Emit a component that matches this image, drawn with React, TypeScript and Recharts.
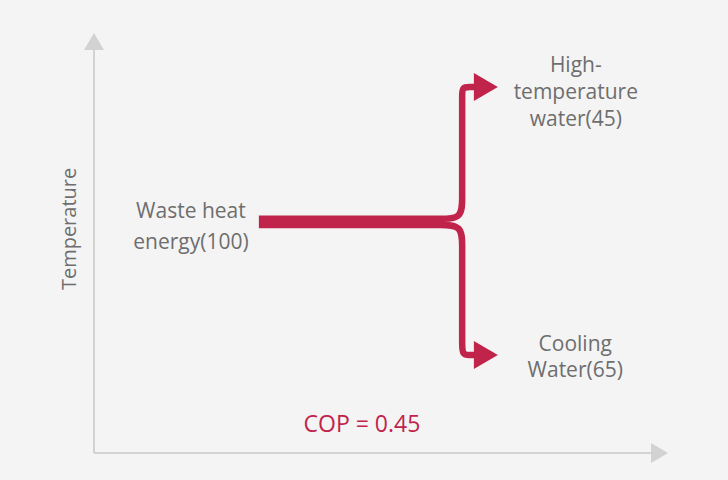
import React from "react";
import { ComposedChart, Line, XAxis, YAxis, ReferenceDot } from "recharts";

// Flow paths (x: process stage 0-100, y: temperature 0-100)
const upperFlowX = [29.6, 58.5, 62.1, 66.1, 66.1, 66.1, 66.1, 66.1, 66.1, 67.5, 68.6];
const upperFlowY = [58.1, 58.1, 58.1, 58.1, 63.5, 68.5, 85.1, 88.8, 90.8, 90.8, 90.8];
const lowerFlowX = [29.6, 58.5, 62.1, 66.1, 66.1, 66.1, 66.1, 66.1, 66.1, 67.5, 68.6];
const lowerFlowY = [56.6, 56.6, 56.6, 56.6, 51.1, 46.2, 30.5, 27.3, 24.3, 24.3, 24.3];

const flowEndX = [68.2, 68.2];
const flowEndY = [90.8, 24.3];

const labelTexts = [
  ["Waste heat", "energy(100)"],
  ["High-", "temperature", "water(45)"],
  ["Cooling", "Water(65)"],
];
const labelX = [17.4, 86.5, 86.4];
const labelY = [58.3, 94.5, 25.4];
const labelLineGap = [31, 27, 26];

const copText = "COP = 0.45";
const copX = 48.1;
const copY = 5.2;
const axisTitle = "Temperature";
const axisTitleX = -3.2;
const axisTitleY = 55.6;

const upperData = upperFlowX.map((x, i) => ({ x, y: upperFlowY[i] }));
const lowerData = lowerFlowX.map((x, i) => ({ x, y: lowerFlowY[i] }));

const RED = "#c0244b";
const GRAY_TEXT = "#6e6e6e";
const AXIS = "#d2d2d2";
const FONT = "'Open Sans', sans-serif";

const ArrowRight = (color: string, len: number, half: number) => (p: any) =>
  (
    <path
      d={`M${p.cx},${p.cy - half} L${p.cx + len},${p.cy} L${p.cx},${p.cy + half} Z`}
      fill={color}
    />
  );
const ArrowUp = (color: string, len: number, half: number) => (p: any) =>
  (
    <path
      d={`M${p.cx - half},${p.cy} L${p.cx},${p.cy - len} L${p.cx + half},${p.cy} Z`}
      fill={color}
    />
  );

const MultiText = (lines: string[], gap: number, color: string, size: number) => (p: any) =>
  (
    <text x={p.cx} y={p.cy} textAnchor="middle" fontFamily={FONT} fontSize={size} fill={color}>
      {lines.map((l, i) => (
        <tspan key={i} x={p.cx} dy={i === 0 ? 0 : gap}>
          {l}
        </tspan>
      ))}
    </text>
  );

const RotText = (label: string) => (p: any) =>
  (
    <text
      x={p.cx}
      y={p.cy}
      transform={`rotate(-90, ${p.cx}, ${p.cy})`}
      textAnchor="middle"
      fontFamily={FONT}
      fontSize={20}
      fill={GRAY_TEXT}
    >
      {label}
    </text>
  );

export default function App() {
  return (
    <div
      style={{
        position: "absolute",
        left: 0,
        top: 0,
        width: 728,
        height: 480,
        background: "#f4f4f4",
      }}
    >
      <ComposedChart width={728} height={480} margin={{ top: 50, right: 77, bottom: 26, left: 93 }}>
        <XAxis
          type="number"
          dataKey="x"
          domain={[0, 100]}
          height={1}
          tick={false}
          tickLine={false}
          axisLine={{ stroke: AXIS, strokeWidth: 2 }}
          allowDataOverflow
        />
        <YAxis
          type="number"
          dataKey="y"
          domain={[0, 100]}
          width={1}
          tick={false}
          tickLine={false}
          axisLine={{ stroke: AXIS, strokeWidth: 2 }}
          allowDataOverflow
        />
        <ReferenceDot x={0} y={100} r={0} ifOverflow="visible" shape={ArrowUp(AXIS, 17, 10)} />
        <ReferenceDot x={100} y={0} r={0} ifOverflow="visible" shape={ArrowRight(AXIS, 17, 10)} />

        <Line
          data={upperData}
          dataKey="y"
          type="basis"
          stroke={RED}
          strokeWidth={6.5}
          dot={false}
          activeDot={false}
          strokeLinecap="butt"
          isAnimationActive={false}
        />
        <Line
          data={lowerData}
          dataKey="y"
          type="basis"
          stroke={RED}
          strokeWidth={6.5}
          dot={false}
          activeDot={false}
          strokeLinecap="butt"
          isAnimationActive={false}
        />
        {flowEndX.map((x, i) => (
          <ReferenceDot key={`a${i}`} x={x} y={flowEndY[i]} r={0} ifOverflow="visible" shape={ArrowRight(RED, 24, 14)} />
        ))}

        {labelTexts.map((lines, i) => (
          <ReferenceDot
            key={`l${i}`}
            x={labelX[i]}
            y={labelY[i]}
            r={0}
            ifOverflow="visible"
            shape={MultiText(lines, labelLineGap[i], GRAY_TEXT, 21)}
          />
        ))}
        <ReferenceDot x={copX} y={copY} r={0} ifOverflow="visible" shape={MultiText([copText], 0, RED, 23)} />
        <ReferenceDot x={axisTitleX} y={axisTitleY} r={0} ifOverflow="visible" shape={RotText(axisTitle)} />
      </ComposedChart>
    </div>
  );
}
